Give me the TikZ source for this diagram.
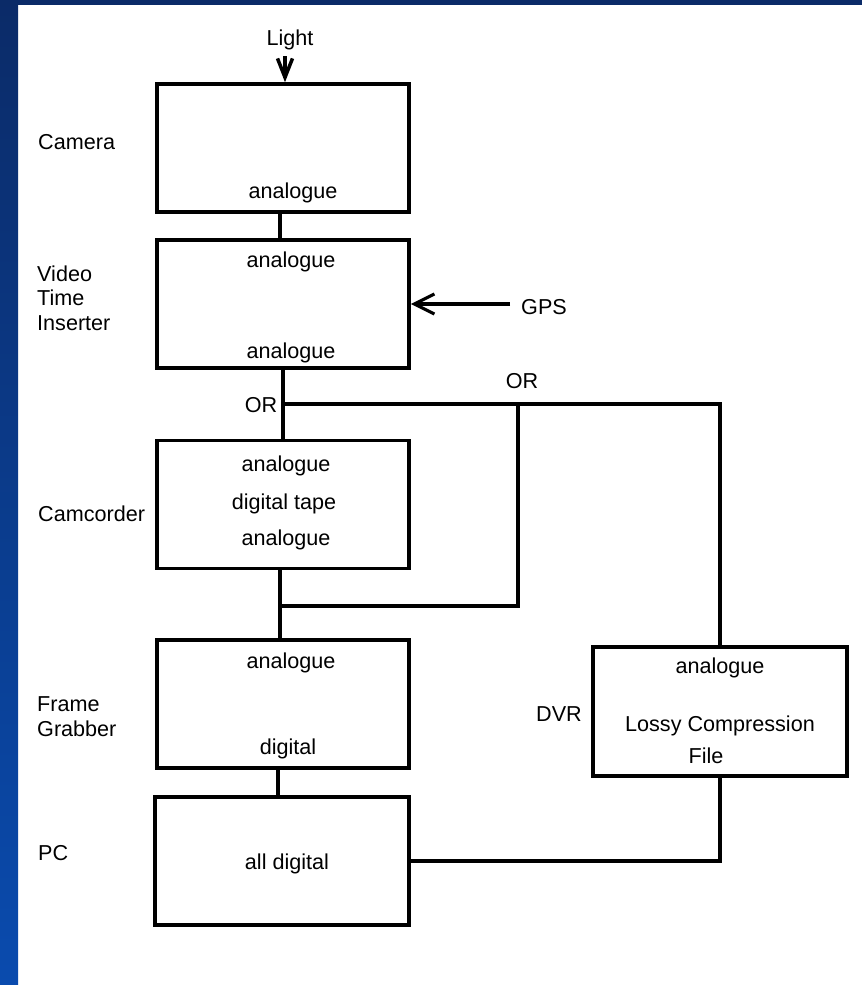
\documentclass[tikz,border=0pt]{standalone}
\usepackage{fontspec}
\setmainfont{Liberation Sans}
\usetikzlibrary{arrows.meta}
\definecolor{navy}{HTML}{0B2B68}
\definecolor{bluebot}{HTML}{0A4BAE}
\begin{document}
\begin{tikzpicture}[x=1pt,y=-1pt,
  box/.style={draw,line width=3.6pt,inner sep=0pt,minimum width=252pt,minimum height=128pt},
  lbl/.style={inner sep=0pt,font=\fontsize{21.6}{25}\selectfont},
  side/.style={lbl,anchor=west,align=left},
  wire/.style={line width=3.6pt}]
\useasboundingbox (0,0) rectangle (862,985);
\fill[white] (0,0) rectangle (862,985);
\shade[top color=navy,bottom color=bluebot] (0,0) rectangle (18,985);
\fill[navy] (0,0) rectangle (862,5);
% boxes
\node[box] (cam) at (283,148) {};
\node[box] (vti) at (283,304) {};
\node[box] (camc) at (283,504.5) {};
\node[box] (fg) at (283,704) {};
\node[box,minimum width=254pt] (pc) at (282,861) {};
\node[box,minimum width=254pt,minimum height=129pt] (dvr) at (720,711.5) {};
% texts inside boxes
\node[lbl] (t1) at (293,193) {analogue};
\node[lbl] (t2) at (291,262) {analogue};
\node[lbl] (t3) at (291,353) {analogue};
\node[lbl] (t4) at (286,466) {analogue};
\node[lbl] (t5) at (284,504) {digital tape};
\node[lbl] (t6) at (286,540) {analogue};
\node[lbl] (t7) at (291,663) {analogue};
\node[lbl] (t8) at (288,749) {digital};
\node[lbl] (t9) at (287,864) {all digital};
\node[lbl] (t10) at (720,668) {analogue};
\node[lbl] (t11) at (720,726) {Lossy Compression};
\node[lbl] (t12) at (706,756) {File};
% side labels
\node[side] (s1) at (38,142) {Camera};
\node[side] (s2) at (37,298) {Video\\[-0.5pt]Time\\[-0.5pt]Inserter};
\node[side] (s3) at (38,514) {Camcorder};
\node[side] (s4) at (37,716.5) {Frame\\[-0.5pt]Grabber};
\node[side] (s5) at (38,853) {PC};
\node[side] (s6) at (536,714) {DVR};
\node[lbl] (or1) at (261,405) {OR};
\node[lbl] (or2) at (522,381) {OR};
% inputs
\node[lbl] (light) at (290,40) {Light};
\coordinate (lt) at (285,56);
\draw[wire,-{Straight Barb[length=19pt,width=15pt,line width=3.5pt]}] (lt) -- (cam.north -| lt);
\node[lbl,anchor=west] (gps) at (521,307) {GPS};
\coordinate (gp) at (510,304);
\draw[wire,-{Straight Barb[length=20pt,width=20pt,line width=3.2pt]}] (gp) -- (vti.east |- gp);
% connectors
\draw[wire] ([xshift=-3pt]cam.south) -- ([xshift=-3pt]vti.north);
\draw[wire] (vti.south) -- (camc.north);
\coordinate (j1) at (283,404);
\coordinate (j2) at (518,404);
\coordinate (j3) at (280,606);
\draw[wire] (j1) -| (dvr.north);
\draw[wire] (j2) |- (j3);
\draw[wire] ([xshift=-3pt]camc.south) -- ([xshift=-3pt]fg.north);
\draw[wire] ([xshift=-5pt]fg.south) -- ([xshift=-4pt]pc.north);
\draw[wire] (dvr.south) |- (pc.east);
\end{tikzpicture}
\end{document}
